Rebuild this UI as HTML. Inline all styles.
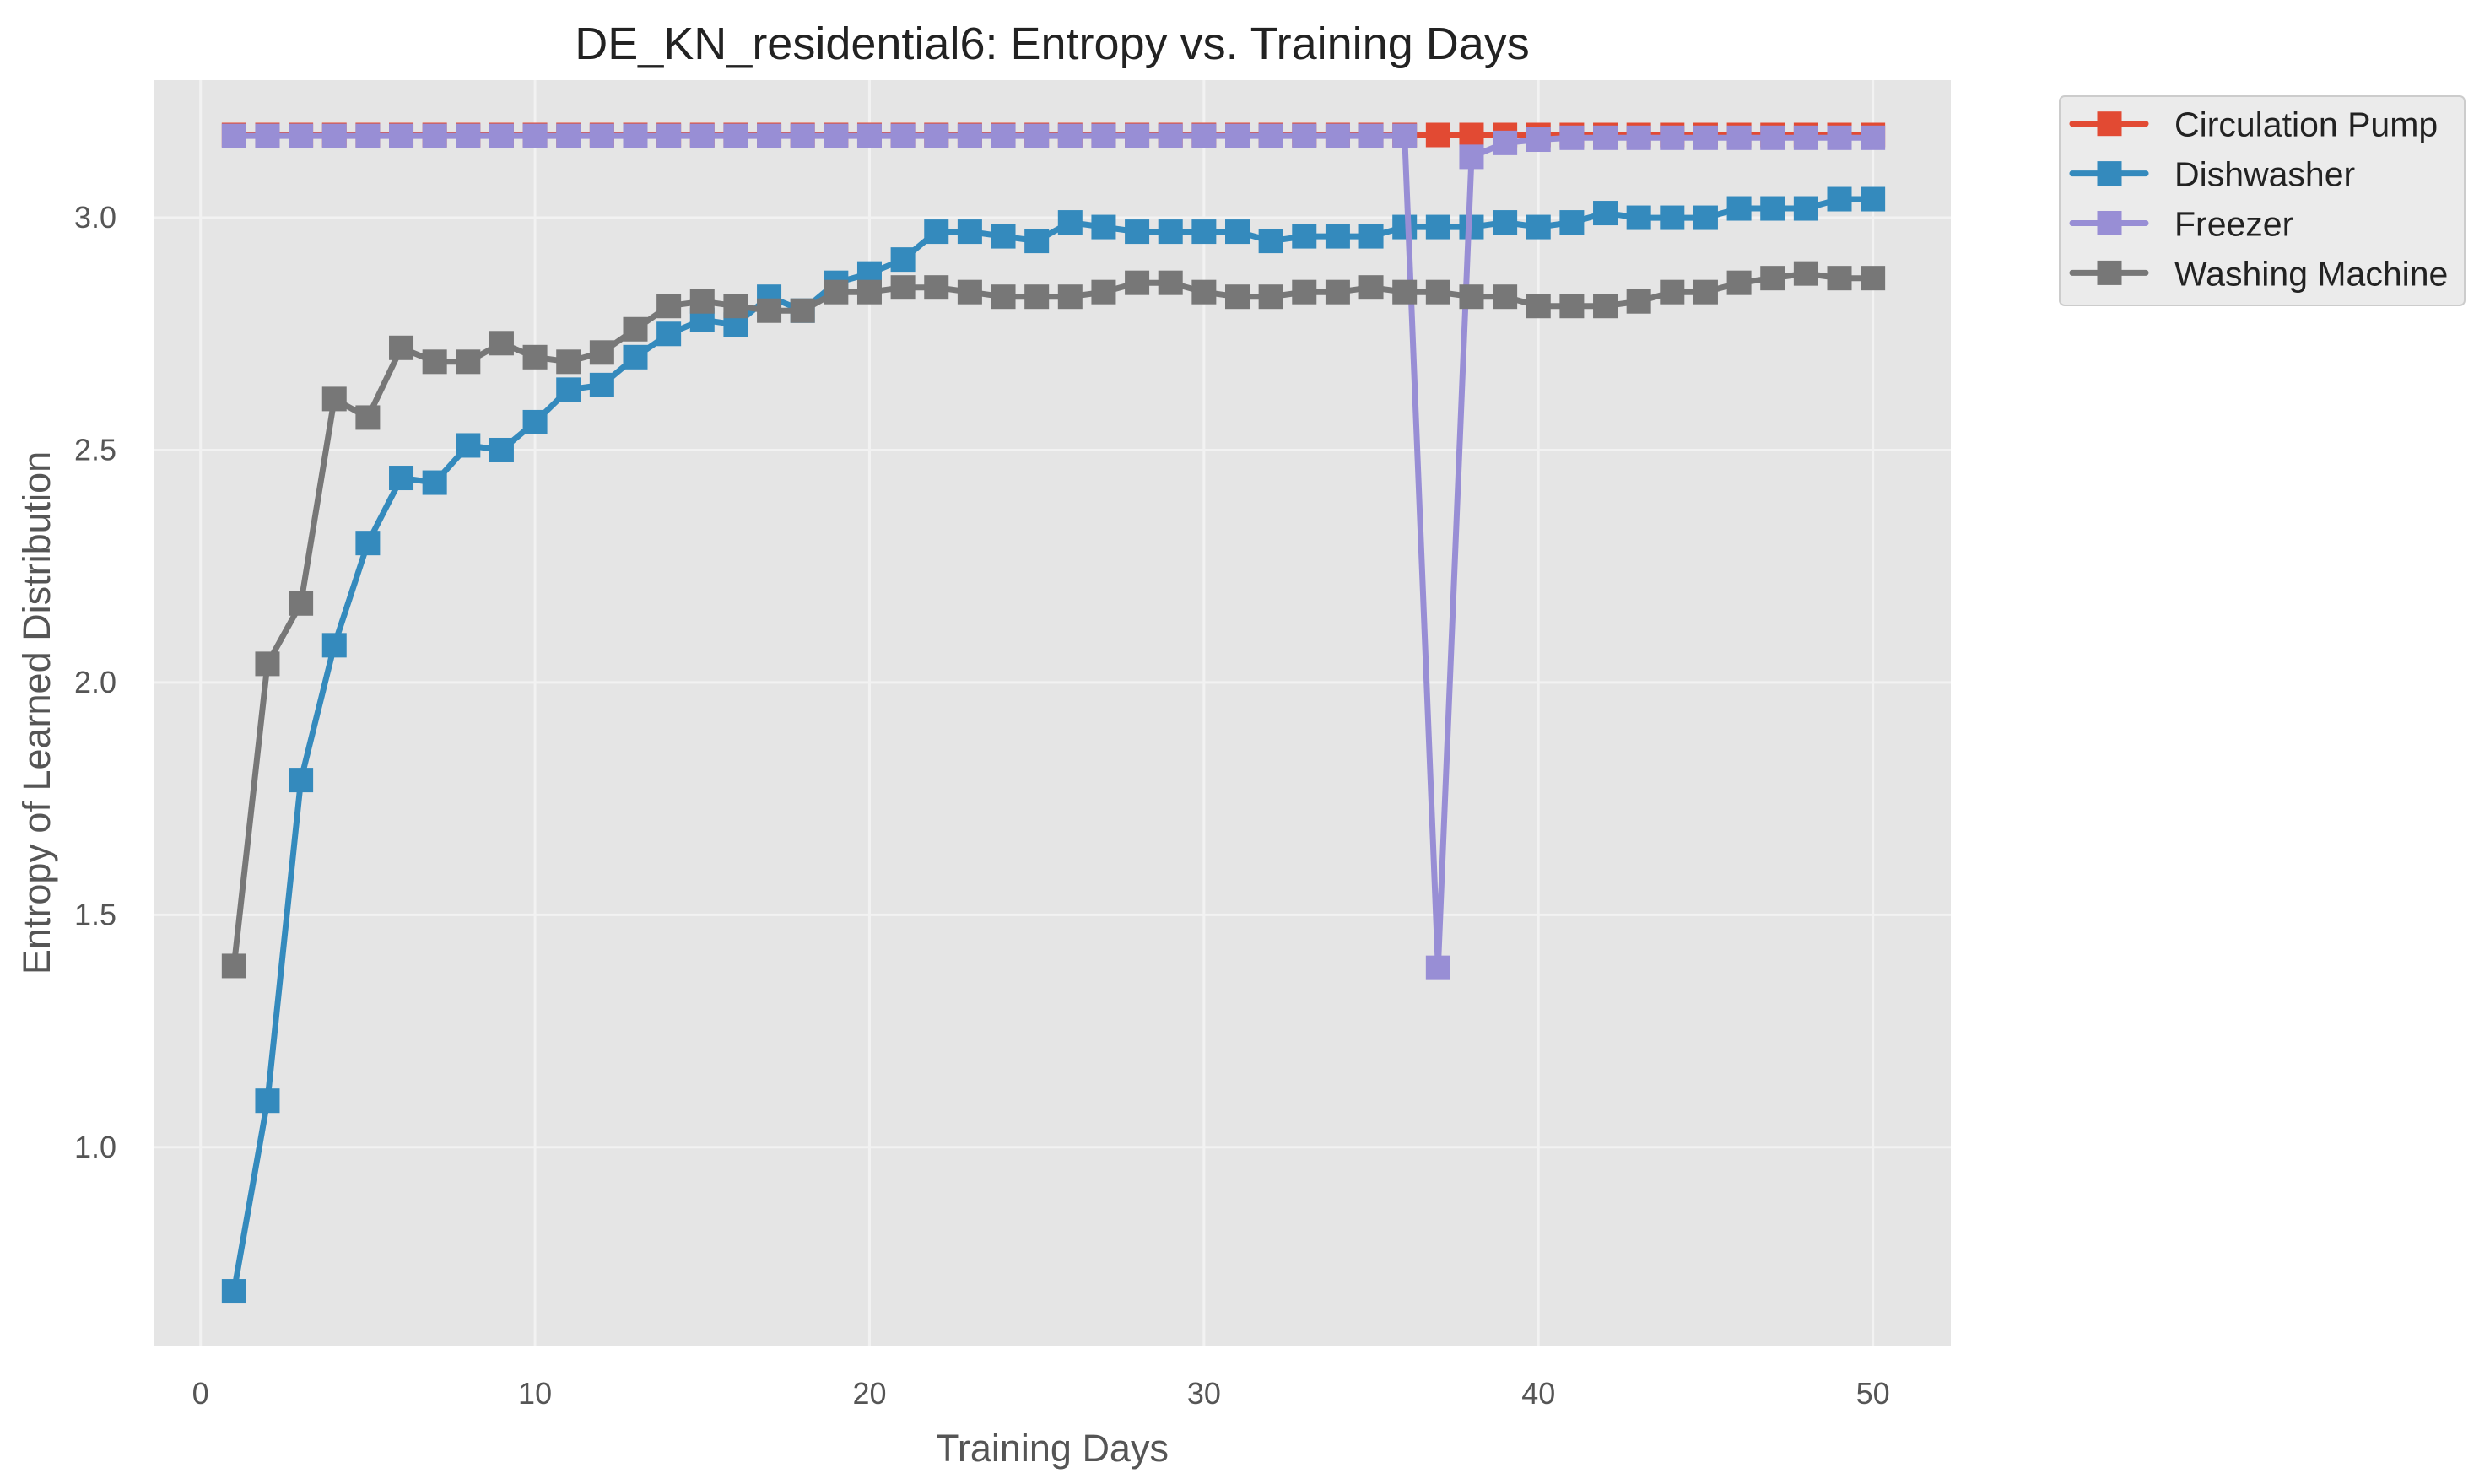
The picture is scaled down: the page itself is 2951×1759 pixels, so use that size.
<!DOCTYPE html>
<html><head><meta charset="utf-8"><style>
body{margin:0;background:#fff;}
svg{display:block;font-family:"Liberation Sans",Arial,sans-serif;}
</style></head><body>
<svg id="chart" width="2951" height="1759" viewBox="0 0 2951 1759" xmlns="http://www.w3.org/2000/svg">
<rect x="182" y="95" width="2130" height="1500" fill="#E5E5E5"/>
<g id="grid"></g>
<g id="series"></g>
<g id="ticks"></g>
<text x="1247" y="70" font-size="54" fill="#222" text-anchor="middle">DE_KN_residential6: Entropy vs. Training Days</text>
<text x="1247" y="1732" font-size="45" fill="#555" text-anchor="middle">Training Days</text>
<text transform="translate(47,845) rotate(-90)" font-size="45" fill="#555" text-anchor="middle" dominant-baseline="middle">Entropy of Learned Distribution</text>
<g>
<rect x="2441" y="114" width="480" height="248" rx="6" fill="#EBEBEB" stroke="#CCCCCC" stroke-width="2"/>
<g id="legend-items"></g>
</g>
</svg>
<script>
const days = Array.from({length:50},(_,i)=>i+1);
const seriesNames = ["Circulation Pump","Dishwasher","Freezer","Washing Machine"];
const seriesColors = ["#E24A33","#348ABD","#988ED5","#777777"];
const pumpValues = [3.178,3.178,3.178,3.178,3.178,3.178,3.178,3.178,3.178,3.178,3.178,3.178,3.178,3.178,3.178,3.178,3.178,3.178,3.178,3.178,3.178,3.178,3.178,3.178,3.178,3.178,3.178,3.178,3.178,3.178,3.178,3.178,3.178,3.178,3.178,3.178,3.178,3.178,3.178,3.178,3.178,3.178,3.178,3.178,3.178,3.178,3.178,3.178,3.178,3.178];
const dishwasherValues = [0.69,1.10,1.79,2.08,2.30,2.44,2.43,2.51,2.50,2.56,2.63,2.64,2.70,2.75,2.78,2.77,2.83,2.80,2.86,2.88,2.91,2.97,2.97,2.96,2.95,2.99,2.98,2.97,2.97,2.97,2.97,2.95,2.96,2.96,2.96,2.98,2.98,2.98,2.99,2.98,2.99,3.01,3.00,3.00,3.00,3.02,3.02,3.02,3.04,3.04];
const freezerValues = [3.176,3.176,3.176,3.176,3.176,3.176,3.176,3.176,3.176,3.176,3.176,3.176,3.176,3.176,3.176,3.176,3.176,3.176,3.176,3.176,3.176,3.176,3.176,3.176,3.176,3.176,3.176,3.176,3.176,3.176,3.176,3.176,3.176,3.176,3.176,3.176,1.386,3.131,3.161,3.168,3.172,3.172,3.172,3.172,3.172,3.172,3.172,3.172,3.172,3.172];
const washingValues = [1.39,2.04,2.17,2.61,2.57,2.72,2.69,2.69,2.73,2.70,2.69,2.71,2.76,2.81,2.82,2.81,2.80,2.80,2.84,2.84,2.85,2.85,2.84,2.83,2.83,2.83,2.84,2.86,2.86,2.84,2.83,2.83,2.84,2.84,2.85,2.84,2.84,2.83,2.83,2.81,2.81,2.81,2.82,2.84,2.84,2.86,2.87,2.88,2.87,2.87];
const xTicks = [0,10,20,30,40,50];
const yTicks = [1.0,1.5,2.0,2.5,3.0];
const yTickLabels = ["1.0","1.5","2.0","2.5","3.0"];

const NS="http://www.w3.org/2000/svg";
const L=182,R=2312,T=95,B=1595;
const xMin=-1.405,xMax=52.33,yMin=0.573,yMax=3.296;
const xs=v=>L+(v-xMin)/(xMax-xMin)*(R-L);
const ys=v=>B-(v-yMin)/(yMax-yMin)*(B-T);
function mk(tag,attrs,parent){const e=document.createElementNS(NS,tag);for(const k in attrs)e.setAttribute(k,attrs[k]);parent.appendChild(e);return e;}
const grid=document.getElementById('grid'),ticks=document.getElementById('ticks'),sg=document.getElementById('series');
xTicks.forEach(t=>{
  const ln=mk('line',{x1:xs(t),x2:xs(t),y1:T,y2:B,stroke:'#F2F2F2','stroke-width':3},grid);
  
  
  const tx=mk('text',{x:xs(t),y:1664,'font-size':36,fill:'#555','text-anchor':'middle'},ticks);
  tx.textContent=String(t);
  
  
});
yTicks.forEach((t,i)=>{
  const ln=mk('line',{x1:L,x2:R,y1:ys(t),y2:ys(t),stroke:'#F2F2F2','stroke-width':3},grid);
  
  
  const tx=mk('text',{x:138,y:ys(t)+12,'font-size':36,fill:'#555','text-anchor':'end'},ticks);
  tx.textContent=yTickLabels[i];
  
  
});
const allValues=[pumpValues,dishwasherValues,freezerValues,washingValues];
allValues.forEach((vals,si)=>{
  const g=mk('g',{},sg);
  
  
  const pts=vals.map((v,i)=>xs(days[i]).toFixed(1)+','+ys(v).toFixed(1)).join(' ');
  const pl=mk('polyline',{points:pts,fill:'none',stroke:seriesColors[si],'stroke-width':7,'stroke-linejoin':'round','stroke-linecap':'round'},g);
  
  
  vals.forEach((v,i)=>{
    const r=mk('rect',{x:xs(days[i])-14.5,y:ys(v)-14.5,width:29,height:29,fill:seriesColors[si]},g);
    
    
  });
});
const li=document.getElementById('legend-items');
seriesNames.forEach((n,i)=>{
  const y=146.7+i*58.9;
  const ln=mk('line',{x1:2456,x2:2543,y1:y,y2:y,stroke:seriesColors[i],'stroke-width':7,'stroke-linecap':'round'},li);
  
  
  const r=mk('rect',{x:2485.5,y:y-14.5,width:29,height:29,fill:seriesColors[i]},li);
  
  
  const t=mk('text',{x:2577,y:y+15,'font-size':41,fill:'#222'},li);
  t.textContent=n;
  
  
});
</script>
</body></html>
